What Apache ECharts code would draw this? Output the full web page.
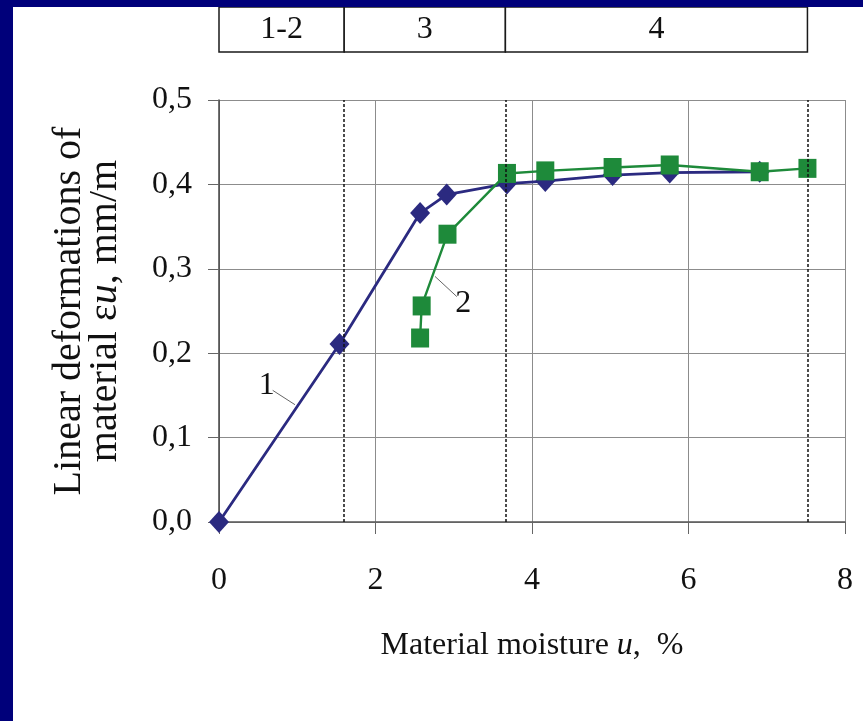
<!DOCTYPE html>
<html>
<head>
<meta charset="utf-8">
<script src="https://cdn.jsdelivr.net/npm/echarts@6/dist/echarts.min.js"></script>
<style>
  html, body { margin:0; padding:0; background:#00007a; width:863px; height:721px; overflow:hidden; }
  #chart { position:absolute; left:13px; top:7px; width:850px; height:714px; background:#ffffff; }
</style>
</head>
<body>
<div id="chart"></div>
<script>
// ---- data ----
const s1U = [0, 1.54, 2.57, 2.91, 3.68, 4.17, 5.03, 5.76, 6.91];
const s1E = [0, 0.211, 0.366, 0.388, 0.401, 0.404, 0.411, 0.414, 0.415];
const s2U = [2.57, 2.59, 2.92, 3.68, 4.17, 5.03, 5.76, 6.91, 7.52];
const s2E = [0.218, 0.256, 0.341, 0.413, 0.416, 0.420, 0.423, 0.415, 0.419];
const zoneStarts = [0, 1.6, 3.66];
const zoneEnds = [1.6, 3.66, 7.52];
const zoneLabels = ['1-2', '3', '4'];
const zoneBounds = [1.6, 3.66, 7.52];
const curveNames = ['1', '2'];
const curveLabelPos = [[0.61, 0.162], [3.12, 0.259]];
const leaderFrom = [[0.686, 0.156], [3.04, 0.267]];
const leaderTo = [[0.971, 0.139], [2.76, 0.291]];

const FONT = '"Liberation Serif", "Times New Roman", serif';
const chart = echarts.init(document.getElementById('chart'));

function pairs(u, e) { return u.map((x, i) => [x, e[i]]); }

const option = {
  animation: false,
  backgroundColor: '#ffffff',
  textStyle: { fontFamily: FONT },
  grid: [
    { left: 206, right: 18, top: 93, bottom: 199, containLabel: false },
    { left: 206, right: 18, top: 0, height: 45, containLabel: false }
  ],
  xAxis: [
    {
      gridIndex: 0, type: 'value', min: 0, max: 8, interval: 2,
      name: '{a|Material moisture }{i|u}{a|,  %}',
      nameLocation: 'middle', nameGap: 108,
      nameTextStyle: {
        rich: {
          a: { fontFamily: FONT, fontSize: 32, color: '#111' },
          i: { fontFamily: FONT, fontSize: 32, fontStyle: 'italic', color: '#111' }
        }
      },
      axisLine: { show: true, onZero: false, lineStyle: { color: '#555', width: 1.5 } },
      axisTick: { show: true, inside: false, length: 12, lineStyle: { color: '#666' } },
      axisLabel: { margin: 43, fontFamily: FONT, fontSize: 32, color: '#111' },
      splitLine: { show: true, lineStyle: { color: '#8c8c8c', width: 1 } }
    },
    { gridIndex: 1, type: 'value', min: 0, max: 8, show: false }
  ],
  yAxis: [
    {
      gridIndex: 0, type: 'value', min: 0, max: 0.5, interval: 0.1,
      name: '{a|Linear deformations of}\n{a|material ε}{i|u}{a|, mm/m}',
      nameLocation: 'middle', nameGap: 96, nameRotate: 90,
      nameTextStyle: {
        align: 'center',
        lineHeight: 36,
        rich: {
          a: { fontFamily: FONT, fontSize: 40, color: '#111', lineHeight: 36 },
          i: { fontFamily: FONT, fontSize: 40, fontStyle: 'italic', color: '#111', lineHeight: 36 }
        }
      },
      axisLine: { show: true, onZero: false, lineStyle: { color: '#444', width: 1.5 } },
      axisTick: { show: true, inside: false, length: 11, lineStyle: { color: '#666' } },
      axisLabel: {
        margin: 27, fontFamily: FONT, fontSize: 32, color: '#111',
        formatter: v => v.toFixed(1).replace('.', ',')
      },
      splitLine: { show: true, lineStyle: { color: '#8c8c8c', width: 1 } }
    },
    { gridIndex: 1, type: 'value', min: 0, max: 1, show: false }
  ],
  series: [
    {
      type: 'custom',
      xAxisIndex: 1, yAxisIndex: 1,
      silent: true,
      data: zoneStarts.map((s, i) => [s, zoneEnds[i], zoneLabels[i]]),
      renderItem: function (params, api) {
        const p0 = api.coord([api.value(0), 1]);
        const p1 = api.coord([api.value(1), 0]);
        const label = zoneLabels[params.dataIndex];
        return {
          type: 'group',
          children: [
            {
              type: 'rect',
              shape: { x: p0[0], y: p0[1], width: p1[0] - p0[0], height: p1[1] - p0[1] },
              style: { fill: '#ffffff', stroke: '#1a1a1a', lineWidth: 1.5 }
            },
            {
              type: 'text',
              style: {
                text: label,
                x: (p0[0] + p1[0]) / 2, y: (p0[1] + p1[1]) / 2,
                align: 'center', verticalAlign: 'middle',
                fontFamily: FONT, fontSize: 32, fill: '#111'
              }
            }
          ]
        };
      }
    },
    {
      name: '1', type: 'line',
      data: pairs(s1U, s1E),
      symbol: 'diamond', symbolSize: [20, 22],
      lineStyle: { color: '#2b2a80', width: 2.8 },
      itemStyle: { color: '#2b2a80' },
      z: 3,
      markLine: {
        silent: true, symbol: 'none',
        label: { show: false },
        data: zoneBounds.map(b => ({ xAxis: b, lineStyle: { color: '#111', type: [3, 2], width: 1.5 } }))
          .concat([[
            { coord: leaderFrom[0], lineStyle: { color: '#666', type: 'solid', width: 1 } },
            { coord: leaderTo[0] }
          ]])
      },
      markPoint: {
        symbol: 'circle', symbolSize: 0, silent: true,
        label: { show: true, position: 'inside', fontFamily: FONT, fontSize: 32, color: '#111', formatter: curveNames[0] },
        data: [{ coord: curveLabelPos[0] }]
      }
    },
    {
      name: '2', type: 'line',
      data: pairs(s2U, s2E),
      symbol: 'rect', symbolSize: [18, 19],
      lineStyle: { color: '#1e8a3a', width: 2.4 },
      itemStyle: { color: '#1e8a3a' },
      z: 4,
      markLine: {
        silent: true, symbol: 'none',
        label: { show: false },
        data: [[
          { coord: leaderFrom[1], lineStyle: { color: '#666', type: 'solid', width: 1 } },
          { coord: leaderTo[1] }
        ]]
      },
      markPoint: {
        symbol: 'circle', symbolSize: 0, silent: true,
        label: { show: true, position: 'inside', fontFamily: FONT, fontSize: 32, color: '#111', formatter: curveNames[1] },
        data: [{ coord: curveLabelPos[1] }]
      }
    }
  ]
};
chart.setOption(option);
</script>
</body>
</html>
